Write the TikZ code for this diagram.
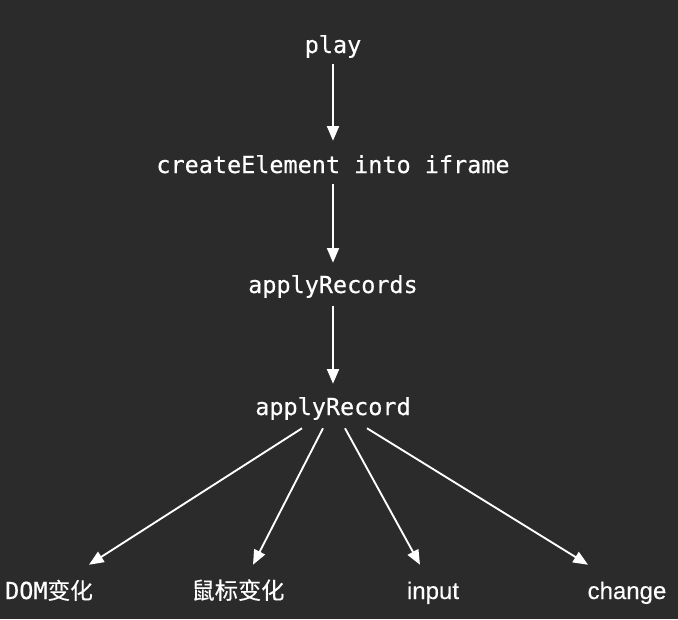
\documentclass[tikz,border=0pt]{standalone}
\usepackage{fontspec}
\setmainfont{Liberation Sans}
\newfontfamily\codefont{DejaVu Sans Mono}[FakeBold=0.4]
\newfontfamily\sansfont{Liberation Sans}[FakeBold=0.3]
\newfontfamily\cjk{Noto Sans CJK SC}[FakeBold=0.3]
\usetikzlibrary{arrows.meta,calc}
\definecolor{bgdark}{RGB}{43,43,43}

\begin{document}
\begin{tikzpicture}[
  x=0.75pt,y=-0.75pt,
  code/.style={font=\codefont\fontsize{17.6}{20}\selectfont,text=white,inner sep=0pt,
    text height=13.5pt,text depth=4.5pt,anchor=base},
  sans/.style={font=\sansfont\fontsize{18}{20}\selectfont,text=white,inner sep=0pt,
    text height=13.5pt,text depth=4.5pt,anchor=base},
  flow/.style={draw=white,line width=1.4pt,-{Triangle[length=11pt,width=9pt]}},
]
\fill[bgdark] (0,0) rectangle (678,619);
\useasboundingbox (0,0) rectangle (678,619);
\node[code] (play) at (333,53) {play};
\node[code] (create) at (333,173) {createElement into iframe};
\node[code] (recs) at (333,293) {applyRecords};
\node[code] (rec) at (333,415) {applyRecord};
\node[code] (dom) at (49,599) {DOM{\cjk\fontsize{17}{20}\selectfont 变化}};
\node[sans] (mouse) at (238,599) {\cjk\fontsize{17.4}{20}\selectfont 鼠标变化};
\node[sans] (input) at (433,599) {input};
\node[sans] (change) at (627,599) {change};
\draw[flow,shorten <=3.5pt,shorten >=10.5pt] (play.south) -- (create.north);
\draw[flow,shorten <=3.75pt,shorten >=9pt] (create.south) -- (recs.north);
\draw[flow,shorten <=5.25pt,shorten >=9.75pt] (recs.south) -- (rec.north);
\draw[flow] ([xshift=-23.25pt,yshift=-5.25pt]rec.south) -- ([xshift=30pt,yshift=12pt]dom.north);
\draw[flow] ([xshift=-7.5pt,yshift=-5.25pt]rec.south) -- ([xshift=11.25pt,yshift=12pt]mouse.north);
\draw[flow] ([xshift=9pt,yshift=-5.25pt]rec.south) -- ([xshift=-9.75pt,yshift=12pt]input.north);
\draw[flow] ([xshift=25.5pt,yshift=-5.25pt]rec.south) -- ([xshift=-29.25pt,yshift=12pt]change.north);
\end{tikzpicture}
\end{document}
